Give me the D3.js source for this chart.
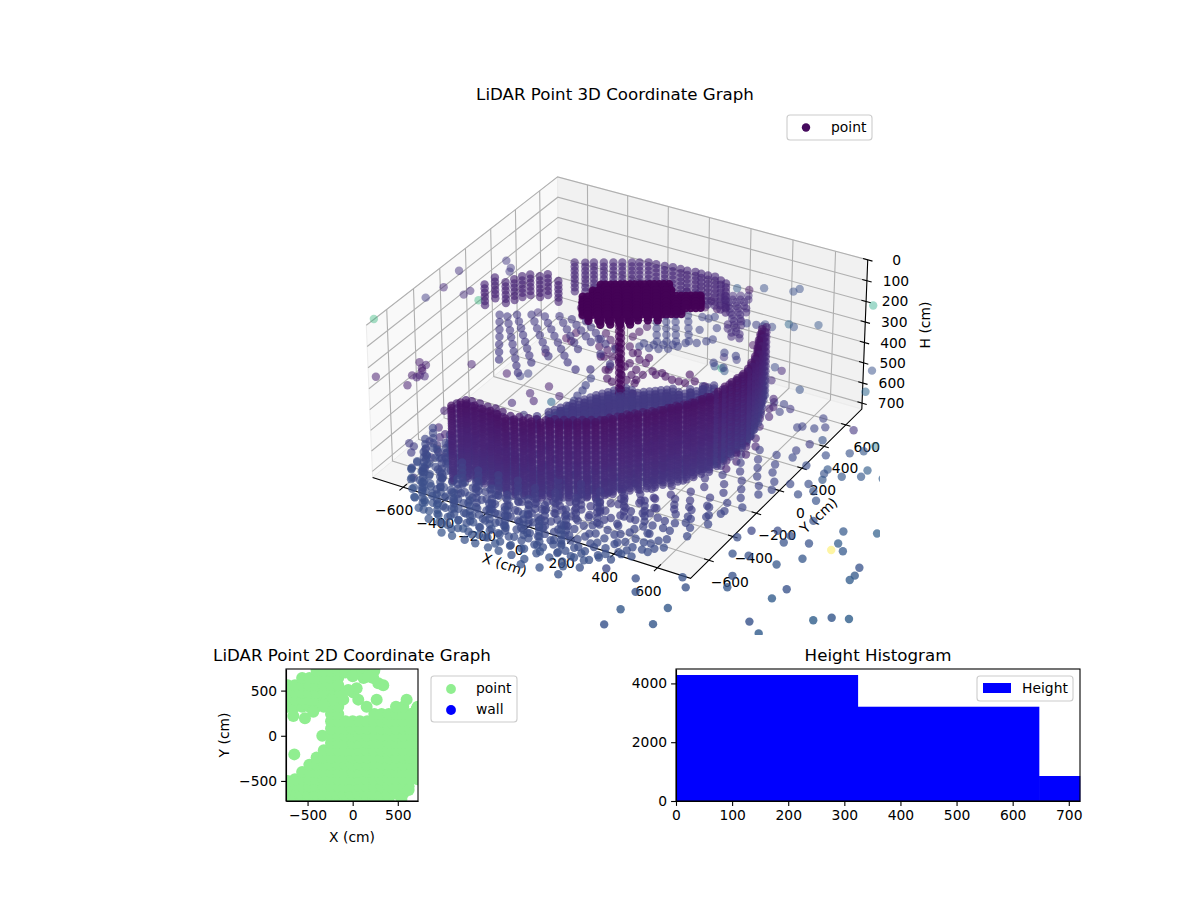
<![CDATA[<!DOCTYPE html>
<html><head><meta charset="utf-8">
<script src="https://cdn.jsdelivr.net/npm/d3@7/dist/d3.min.js"></script>
<style>html,body{margin:0;background:#fff;overflow:hidden}svg{display:block}text{font-family:"DejaVu Sans";fill:#000}</style>
</head><body><svg id="c" width="1200" height="900"></svg>
<script>
// ---------- 3D chart data (cm) ----------
const xTicks3d=[-600,-400,-200,0,200,400,600];
const yTicks3d=[-600,-400,-200,0,200,400,600];
const hTicks3d=[0,100,200,300,400,500,600,700];
const xyLimit=[-750,750];
const hLimit=[0,730];

const frontWallHeights=[330,342,354,366,378,390,402,414,426,438,450,462,474,486,498,510,522,534,546,558,570,582,594,606,618,630,642,654,666,678,690];
const frontWallColumns=[[-415,-655],[-396,-614],[-371,-609],[-334,-607],[-293,-613],[-257,-610],[-219,-618],[-174,-630],[-139,-619],[-103,-608],[-71,-598],[-34,-587],[-7,-561],[29,-549],[61,-531],[93,-512],[124,-493],[156,-475],[179,-442],[203,-419],[227,-385],[250,-361],[274,-337],[302,-311],[326,-288],[345,-256],[365,-225],[386,-203],[408,-170],[425,-141],[440,-102],[460,-72],[467,-18],[471,32],[479,77],[483,118],[488,160],[485,207],[473,258],[462,311],[439,376],[412,438],[394,486],[380,526]];
const innerWallHeights=[340,364,388,412,436,460,484,508,532,556,580,604,628,652,676];
const innerWallColumns=[[-415,-615],[-396,-574],[-371,-569],[-334,-567],[-293,-573],[-257,-570],[-219,-578],[-174,-590],[-139,-579],[-103,-568],[-71,-558],[-34,-547],[-7,-521],[29,-509],[61,-491],[93,-472],[124,-453],[156,-435],[179,-402],[203,-379],[227,-345],[250,-321],[274,-297],[302,-271],[326,-248],[345,-216],[365,-185],[386,-163],[408,-130],[425,-101],[440,-62],[460,-32],[467,22],[471,72],[479,117],[483,158],[488,200],[485,247],[473,298],[462,351],[439,416],[412,478],[394,526],[380,566]];

const backWallHeights=[100,120,140,160,180,200,220,240];
const backWallColumns=[[-385,277],[-346,299],[-315,318],[-279,339],[-244,359],[-212,378],[-177,399],[-149,415],[-117,434],[-81,436],[-42,440],[-8,449],[28,451],[60,451],[94,460],[123,458],[155,458],[185,465],[222,448],[253,436]];

const leftWallHeights=[100,120,140,160,180,200];
const leftWallColumns=[[-613,-73],[-607,-1],[-547,-14],[-529,26],[-514,65],[-493,95],[-450,102],[-430,133],[-362,105]];

const fanHeights=[485,500,515,530,545];
const fanPoints=[[-205,-335],[-181,-282],[-156,-228],[-130,-174],[-105,-121],[-80,-67],[-50,-20],[-21,27],
[-131,-272],[-101,-225],[-75,-172],[-50,-118],[-21,-71],[9,-24],[43,16],[77,55],[115,87],[152,119],
[-46,-223],[-21,-169],[9,-122],[38,-75],[73,-35],[106,4],[144,35],[182,68],[216,107],[250,147],[279,194],[305,248],
[-143,-250],[-116,-200],[-90,-146],[-62,-94],[-35,-45],[-6,2],[28,42],
[-88,-248],[-60,-196],[-36,-145],[-6,-98],[24,-50],[58,-10],[93,26],[130,58],[166,88],[203,128],[234,170],[268,220],
[-168,-255],[-143,-201],[-117,-147],[-92,-94],[-65,-43],[-35,3],[-3,47],
[-116,-248],[-88,-198],[-62,-145],[-35,-94],[-6,-47],[26,-4],[60,35],[96,71],[133,103],[169,139],
[-33,-196],[-6,-145],[23,-98],[55,-55],[89,-15],[125,19],[163,51],[199,87],[233,127],[264,170],[292,221]];

const clusterHeights=[135,150,165];
const clusterPoints=[[-225,220],[-190,241],[-155,262],[-120,283],[-85,304],[-50,325],[-15,346],[20,367],
[-228,159],[-193,180],[-158,201],[-123,222],[-88,243],[-53,264],[-18,285],[17,306],[52,327],
[-238,94],[-203,115],[-168,136],[-133,157],[-98,178],[-63,199],[-28,220],[7,241],[42,262],[77,283],[112,304],[147,325],[182,346],
[-213,50],[-178,71],[-143,92],[-108,113],[-73,134],[-38,155],[-3,176],[32,197],[67,218],[102,239],[137,260],[172,281],[207,302],
[-187,7],[-152,28],[-117,49],[-82,70],[-47,91],[-12,112],[23,133],[58,154],[93,175],[128,196],[163,217],
[-141,-24],[-106,-3],[-71,18],[-36,39],[-1,60],[34,81],[69,102],[104,123],
[-82,-28],[-47,-7],[-12,14],[23,35],
[-208,230],[-173,251],[-138,272],[-103,293],[-68,314],[-33,335],[2,356],
[-210,170],[-175,190],[-140,211],[-105,232],[-70,253],[-35,274],[0,295],[35,316],
[-220,104],[-185,125],[-150,146],[-115,167],[-80,188],[-45,209],[-10,230],[25,251],[60,272],[95,293],[130,314],[165,335],
[-195,60],[-160,81],[-125,102],[-90,123],[-55,144],[-20,165],[15,186],[50,207],[85,228],[120,249],[155,270],[190,291],
[-170,17],[-135,38],[-100,59],[-65,80],[-30,101],[5,122],[40,143],[75,164],[110,185],[145,206]];

const stemHeights=[170,195,220,245,270,295,320,345,370,395,420,445,470,495];
const stemColumns=[[0,0],[-14,8]];

const rayHeight=350;
const rayPoints=[[-658,111],[-625,57],[-592,3],[-560,-49],[-527,-105],[-494,-159],[-461,-213],
[-621,114],[-586,66],[-550,19],[-515,-29],[-479,-76],[-444,-124],[-408,-171],[-373,-219],[-337,-266],
[-594,148],[-557,103],[-519,58],[-482,13],[-445,-31],[-408,-76],[-370,-121],[-333,-166],
[-541,179],[-500,135],[-460,90],[-420,46],[-379,2],[-339,-43],[-298,-87],
[-484,194],[-444,153],[-404,113],[-364,72],[-323,32],[-283,-9],[-243,-49],[-203,-90],
[-431,226],[-389,186],[-347,146],[-306,106],[-264,66],[-222,26],
[-373,230],[-331,198],[-290,167],[-248,135],[-206,104],
[-312,246],[-269,213],[-226,180],[-183,147],
[-120,37],[-43,-16],[-92,-93],[-145,-124],[-144,120],[-88,105],[-190,142]];

const midHeight=500;
const darkArcPoints=[[-286,311],[-226,248],[-153,161],[-92,83],[-104,254],[-53,220],[-8,197],[13,243],[55,250],[118,223],[179,226],[207,259],[264,243],[-135,334],[-83,300],[-46,289],[-242,304],[-197,265],[-159,255],[-108,220],[-49,173],[-3,119],[-85,152],[33,42],[-65,897],[-9,848],[-61,834],[15,879],[-198,917],[-549,645],[-524,561],[-483,504],
[-318,422],[-273,384],[-227,345],[-238,241],[-164,155],[-161,189],[-205,456],[-202,507],[-194,560],[-174,376],[-117,345],[-55,333],[39,225],[81,233],[149,225],[162,297],[-123,97],[-46,126],[-11,147]];
const blueStripPoints=[[-182,63],[-172,3],[-162,-40],[-159,-87],[-150,-130],[-146,-177],[-143,-224],[-152,-262],[-156,-297],
[-208,666],[-180,618],[-152,569],[-124,520],[-96,472],[-172,687],[-144,639],[-116,590],[-88,541],[-60,493],[-137,707],[-109,659],[-81,610],[-53,561],[-25,513],[-90,735],[-62,687],[-34,638],[-6,589],[22,541],
[-139,397],[-97,406],[-58,419],[-23,440],[2,480],[17,521],[-136,431],[-93,440],[-58,461],[-23,481],
[16,782],[71,700],[0,756],[-30,754],[14,650],[58,545],[86,579],[103,605],[200,531],[255,531],[201,434],[257,418],[162,802],[204,810],[234,812]];
const rightConeHeights=[490,510];
const rightConePoints=[[-27,952],[3,969],[32,986],[61,1004],[13,910],[43,927],[72,944],[47,865],[76,882],[106,900],[81,820],[110,837],[115,774],[141,789],[149,729],[105,736],[152,682],[188,687]];

const rightMessHeights=[730,690];
const rightMessPoints=[[281,220],[285,296],[294,366],[311,423],[315,500],[323,569],[340,625],[346,165],[363,221],[371,291],[375,368],[380,445],[389,515],[415,113],[420,189],[436,245],[444,315],[441,406],[438,497],[323,104],[399,57],[490,110],[498,179],[502,256],[266,118],[345,25],[210,132],[221,45],[328,-31],[158,55],[141,-2],[256,-74],[125,-57],[238,-130],[481,39],[416,577]];

const floorHeight=730;
const floorRowsY=[-960,-900,-850,-790,-730,-670,-610,-550,-490,-430,-370,-310,-250,-190,-130,-70,-10,50,110,170,240];
const floorRowsX=[
[-280,-230,-170,-120,-60,-10,50,110],
[-380,-330,-290,-240,-190,-140,-100,-40,10,60,130,190,250],
[-460,-410,-370,-320,-270,-230,-170,-120,-80,-30,30,90,130,200,260,320],
[-520,-470,-430,-380,-340,-280,-240,-190,-130,-90,-30,20,70,130,180,240,290,350,410],
[-560,-520,-470,-410,-370,-320,-260,-210,-170,-120,-60,-10,40,110,160,220,280,350,410,470],
[-610,-570,-520,-470,-420,-370,-330,-270,-220,-160,-110,-50,0,60,120,170,240,310,370,440,510],
[-650,-600,-560,-500,-450,-400,-350,-290,-240,-190,-130,-80,-20,40,90,150,220,290,350,420,490,550],
[-660,-610,-570,-510,-470,-420,-360,-300,-250,-190,-140,-80,-30,30,100,170,240,300,380,450,530],
[-650,-610,-550,-500,-450,-390,-340,-280,-230,-170,-110,-50,10,70,140,210,280,350,430,510,590],
[-640,-590,-530,-470,-420,-370,-310,-250,-190,-120,-60,0,60,130,200,270,350,420,500,570],
[-620,-560,-500,-440,-380,-320,-260,-190,-130,-60,10,80,150,230,300,380,470,540,620],
[-590,-520,-450,-400,-330,-260,-190,-120,-40,30,100,190,270,340,430,510,590],
[-560,-480,-400,-320,-250,-170,-70,20,120,210,290,380,470,550,630],
[-520,-440,-350,-250,-130,40,170,260,350,440,530,610,680],
[-510,-400,170,280,370,470,560,640],
[-490,240,340,440,530,610,690],
[-470,300,400,490,580,660,720],
[360,450,540,620,700],
[420,510,590,660],
[480,560,640],
[530,610]];

const floorScatterHeight=712;
const floorScatterPoints=[[-300,-925],[-245,-940],[-205,-915],[-150,-935],[-95,-925],[-35,-945],[25,-930],[85,-920],[150,-905],[215,-880],[290,-875],[350,-860],
[-420,-875],[-345,-880],[-300,-860],[-255,-870],[-195,-855],[-150,-875],[-105,-860],[-55,-880],[5,-865],[60,-845],[115,-870],[170,-835],[235,-850],[300,-835],[375,-825],
[-500,-815],[-445,-825],[-395,-805],[-350,-820],[-300,-800],[-255,-815],[-205,-795],[-160,-820],[-105,-800],[-60,-825],[-5,-795],[45,-810],[100,-785],[155,-805],[215,-775],[265,-800],[320,-770],[385,-790],[440,-760],
[-545,-765],[-490,-750],[-445,-770],[-395,-745],[-345,-760],[-290,-740],[-235,-760],[-185,-735],[-140,-755],[-85,-745],[-35,-760],[15,-735],[70,-750],[130,-730],[190,-745],[250,-720],[315,-735],[380,-710],[445,-725],[495,-690],
[-590,-705],[-535,-690],[-490,-710],[-440,-690],[-390,-705],[-345,-680],[-295,-700],[-240,-680],[-190,-695],[-135,-675],[-80,-695],[-25,-680],[30,-700],[90,-670],[150,-690],[205,-655],[275,-680],[345,-650],[410,-675],[475,-640],[535,-660],
[-630,-640],[-585,-625],[-540,-645],[-485,-625],[-430,-640],[-385,-615],[-320,-635],[-265,-610],[-215,-630],[-160,-605],[-105,-625],[-50,-600],[10,-625],[70,-595],[125,-620],[190,-590],[255,-615],[325,-585],[390,-605],[455,-575],[520,-600],
[-640,-580],[-590,-565],[-535,-585],[-485,-565],[-440,-580],[-385,-555],[-330,-575],[-275,-545],[-215,-570],[-165,-540],[-110,-565],[-55,-535],[5,-560],[65,-530],[135,-555],[205,-525],[270,-550],[340,-515],[415,-540],[490,-510],
[-630,-520],[-580,-505],[-525,-525],[-475,-505],[-420,-520],[-365,-495],[-310,-510],[-255,-480],[-200,-500],[-140,-470],[-80,-495],[-20,-465],[40,-485],[105,-455],[175,-475],[245,-445],[315,-465],[390,-440],[470,-460],[550,-430],
[-615,-460],[-560,-445],[-505,-465],[-445,-440],[-395,-455],[-340,-425],[-280,-445],[-220,-410],[-155,-440],[-90,-405],[-30,-425],[30,-395],[95,-410],[165,-380],[235,-405],[310,-375],[385,-395],[460,-365],[535,-385],[600,-350],
[-590,-400],[-530,-385],[-470,-405],[-410,-380],[-350,-395],[-290,-360],[-225,-385],[-160,-350],[-95,-370],[-25,-340],[45,-355],[115,-320],[190,-340],[265,-305],[345,-330],[425,-295],[505,-320],[575,-280],[640,-300]];

const streakHeights=[600,625,650,675,700];
const streakColumns=[[-500,-750],[-420,-745],[-330,-755],[-250,-740],[-170,-750],[-90,-760],[0,-745],[80,-750],[170,-735],
[-560,-650],[-470,-655],[-380,-640],[-290,-660],[-200,-650],[-110,-645],[-20,-660],[70,-650],[160,-640],[250,-625],
[-440,-850],[-360,-865],[-285,-855],[-200,-870],[-120,-850],[-40,-860],[40,-850],[120,-860],[210,-840],
[-610,-560],[-520,-545],[-430,-560],[-340,-550],[-250,-565],[-155,-555],[-65,-545],[30,-560],[125,-540],[220,-550],[320,-530],[410,-520],
[-630,-470],[-540,-480],[-450,-465],[-350,-480],[-250,-470]];

// [X, Y, colour value]; readings projected onto the floor height
const strayPoints=[[620,-1077,.34],[775,-977,.34],[780,-1103,.33],[563,-859,.28],[610,-942,.3],[719,-759,.3],[765,-816,.3],[885,-652,.3],[906,-733,.33],[809,-511,.3],[872,-493,.3],[998,-493,.33],[1115,-629,.3],[1095,-715,.36],[1095,-901,.3],[1164,-954,.36],[1305,-769,.38],[1359,-718,.33],[1421,-692,.38],[1068,-405,.33],[1446,-872,.34],[1575,-769,.4],[1300,-447,.36],[1303,-409,.34],[1293,-349,.3],[1140,-234,.36],[1182,-275,.34],[1138,-291,1],[1039,-293,.3],[948,-337,.3],[949,-280,.3],[886,-272,.27],[795,-325,.22],[768,-396,.27],[1118,-145,.34],[1242,-90,.38],[977,-135,.3],[916,6,.3],[830,12,.27],[873,65,.3],[830,105,.27],[765,67,.24],[865,162,.33],[849,208,.3],[847,244,.33],[923,223,.33],[992,263,.33],[993,320,.36],[1076,294,.36],[789,340,.27],[868,404,.3],[911,448,.33],[934,508,.47],[690,385,.18],[664,313,.2],[677,256,.24],[756,228,.27],[798,578,.16],[684,539,.2],[648,508,.22],[582,479,.2],[597,497,.2],[722,440,.3],[644,599,.2],[486,599,.17],[444,621,.2],[458,555,.2],[400,614,.18],[1438,-339,.36],[1466,-388,.38],[1074,-1135,.33],[1130,-1095,.38],[1162,-1075,.38],[1274,-1019,.36],[1447,-863,.34],[1492,-883,.36],[1013,-1171,.32],[617,-1199,.3],[117,-999,.3],[194,-982,.3],[270,-928,.3],[283,-986,.3],[332,-902,.28],[427,-856,.22],
[-1250,1118,.17],[-1196,1069,.17],[-1183,1037,.17],[-1386,929,.15],[-1364,764,.12],[-1382,642,.18],[-1249,751,.13],[-1242,795,.13],[-1164,740,.66],[-1476,363,.66],[-1190,-56,.08],[-1033,-48,.08],[-889,242,.09],[-1094,143,.07],[-1059,107,.07],[-1045,88,.07],[-1032,49,.07],[-1061,32,.07],[-1057,137,.09],[-1010,53,.12],[-1035,29,.1],[-715,251,.08],[-653,260,.2],[-635,297,.2],[-541,158,.1],[-500,247,.08],[-420,200,.1],[-494,110,.1],[-425,141,.42],[-566,50,.12],[-876,778,.15],[-649,643,.03],[-618,633,.02],[-636,705,.03],[-661,487,.03],
[-214,1417,.35],[-109,1478,.28],[20,1516,.28],[33,1552,.28],[388,1581,.6],[141,1242,.42],[171,1232,.3],[258,1301,.32],[642,1062,.3],[698,888,.42],[446,762,.3],[264,878,.25],[304,865,.12],[304,771,.12],[90,851,.18],[31,844,.15],[34,754,.3],[68,754,.62],[90,740,.32],[-342,1276,.05],[-159,1430,.05],[50,1189,.25],[88,1183,.25],[91,1000,.05],
[-766,-447,.18],[-736,-458,.18],[-719,-504,.19],[-684,-446,.17],[-701,-391,.17],[-656,-402,.16],[-621,-447,.16],[-576,-466,.16],[-652,-604,.2],[-602,-667,.2],[-601,-583,.19],[-626,-496,.17],[-781,-149,.1],[-728,-277,.11],[-681,-342,.12],[-675,-310,.11]];

// ---------- 2D chart data ----------
const scatterXLimit=[-739,724], scatterYLimit=[-722,739];
const scatterTicks=[-500,0,500];
const scatterRowsY=[-720,-640,-560,-480,-400,-320,-240,-160,-80,0,80,160,240,320,400,480,560,640,720];
const scatterRowsX=[
[-640,-560,-480,-400,-320,-240,-160,-80,0,80,160,240,320,400],
[-660,-580,-500,-420,-340,-260,-180,-100,-20,60,140,220,300,380,480,560],
[-640,-560,-480,-400,-320,-240,-160,-80,0,80,160,240,320,400,480,560,620],
[-640,-560,-480,-400,-320,-240,-160,-80,0,80,160,240,320,400,480,560,640,720],
[-560,-480,-400,-320,-240,-160,-80,0,80,160,240,320,400,480,560,640,720],
[-480,-400,-320,-240,-160,-80,0,80,160,240,320,400,480,560,640,720],
[-400,-320,-240,-160,-80,0,80,160,240,320,400,480,560,640,720],
[-320,-240,-160,-80,0,80,160,240,320,400,480,560,640,720],
[-240,-160,-80,0,80,160,240,320,400,480,560,640,720],
[-337,-240,-160,-80,0,80,160,240,320,400,480,560,640,720],
[-240,-160,-80,0,80,160,240,320,400,480,560,640,720],
[-240,-160,-80,0,80,160,240,320,400,480,560,640,720],
[-240,-160,240,320,400,480,560,640,720],
[-720,-640,-560,-480,-400,-320,-240,-160,155,480,560,720],
[-720,-640,-560,-480,-400,-320,-240,-104,62,266,598],
[-720,-640,-560,-480,-400,-320,-240,-160,7],
[-720,-640,-560,-480,-400,-320,-240,339],
[-560,-480,-400,-320,-240,-160,120,228],
[-400,-320,-240,-160,-80,0,80,160,240]];
const scatterExtraPoints=[[-647,-206],[-658,218],[-529,193],[-437,267],[-215,425],[709,300],[44,525],[-49,507],[-141,451],[-233,396],[-326,340],[173,655],[284,581],[-700,-650],[-700,-720],[-720,-560],[-720,-500],[620,-600],[540,-700],[-80,700],[0,660],[-160,560]];

// ---------- Histogram data ----------
const binEdges=[0,324,647,720];
const binCounts=[4286,3207,850];
const histXTicks=[0,100,200,300,400,500,600,700];
const histYTicks=[0,2000,4000];

const svg=d3.select('#c');
const fs=13.89, titleFs=16.67;
svg.append('rect').attr('width',1200).attr('height',900).attr('fill','#fff');

// ---------- 3D projection (elev 30, azim -60, perspective) ----------
const xWorld=d3.scaleLinear().domain(xyLimit).range([-.5,.5]);
const yWorld=d3.scaleLinear().domain(xyLimit).range([-.5,.5]);
const hWorld=d3.scaleLinear().domain(hLimit).range([0,-.5]);
const screenX=d3.scaleLinear().domain([0,1]).range([621,988]);
const screenY=d3.scaleLinear().domain([0,1]).range([292,-65]);
function view(X,Y,H){
  const a=xWorld(X),b=yWorld(Y),c=hWorld(H);
  const n=.433*a-.75*b+.5*c, k=10/(10-n);
  return {u:(.866*a+.5*b)*k, v:(-.25*a+.433*b+.866*c)*k, n};
}
function proj(X,Y,H){const p=view(X,Y,H);return [screenX(p.u),screenY(p.v)];}
const path3d=d3.line();
const [xa,xb]=xyLimit,[h0,h1]=hLimit;

const g3=svg.append('g');
const panes=[
 [[[xa,xa,h1],[xa,xb,h1],[xa,xb,h0],[xa,xa,h0]],'#f9f9f9'],
 [[[xa,xb,h1],[xb,xb,h1],[xb,xb,h0],[xa,xb,h0]],'#f1f1f1'],
 [[[xa,xa,h1],[xb,xa,h1],[xb,xb,h1],[xa,xb,h1]],'#f5f5f5']];
panes.forEach(([c,col])=>g3.append('path').attr('d',path3d(c.map(p=>proj(...p)))+'Z').attr('fill',col).attr('stroke','#ececec').attr('stroke-width',1));
const grid=g3.append('g').attr('fill','none').attr('stroke','#b0b0b0').attr('stroke-width',1.1);
xTicks3d.forEach(x=>grid.append('path').attr('d',path3d([[x,xa,h1],[x,xb,h1],[x,xb,h0]].map(p=>proj(...p)))));
yTicks3d.forEach(y=>grid.append('path').attr('d',path3d([[xb,y,h1],[xa,y,h1],[xa,y,h0]].map(p=>proj(...p)))));
hTicks3d.forEach(h=>grid.append('path').attr('d',path3d([[xb,xb,h],[xa,xb,h],[xa,xa,h]].map(p=>proj(...p)))));
const ax=g3.append('g').attr('fill','none').attr('stroke','#000').attr('stroke-width',1.1);
ax.append('path').attr('d',path3d([[xa,xa,h1],[xb,xa,h1],[xb,xb,h1],[xb,xb,h0]].map(p=>proj(...p))));
const lab=g3.append('g').attr('font-size',fs).attr('text-anchor','middle');
xTicks3d.forEach(x=>{
  ax.append('path').attr('d',path3d([[x,xa+28,h1],[x,xa-28,h1]].map(p=>proj(...p))));
  const p=proj(x,xa,h1);
  lab.append('text').attr('x',p[0]-9).attr('y',p[1]+28).text(d3.format('d')(x));
});
yTicks3d.forEach(y=>{
  ax.append('path').attr('d',path3d([[xb-22,y,h1],[xb+22,y,h1]].map(p=>proj(...p))));
  const p=proj(xb,y,h1);
  lab.append('text').attr('x',p[0]+21).attr('y',p[1]+27).text(d3.format('d')(y));
});
hTicks3d.forEach(h=>{
  ax.append('path').attr('d',path3d([[xb-22,xb,h],[xb+22,xb,h]].map(p=>proj(...p))));
  const p=proj(xb,xb,h);
  lab.append('text').attr('x',p[0]+29).attr('y',p[1]+5).text(h);
});
g3.append('text').attr('font-size',fs).attr('text-anchor','middle').attr('transform','translate(503,569) rotate(18)').text('X (cm)');
g3.append('text').attr('font-size',fs).attr('text-anchor','middle').attr('transform','translate(822,519) rotate(-43)').text('Y (cm)');
g3.append('text').attr('font-size',fs).attr('text-anchor','middle').attr('transform','translate(930,325) rotate(-90)').text('H (cm)');
svg.append('text').attr('x',615).attr('y',100).attr('font-size',titleFs).attr('text-anchor','middle').text('LiDAR Point 3D Coordinate Graph');

// assemble the points
const rangeColour=d3.scaleLinear().domain([0,500,800,1200,1700,2000]).range([0,.06,.16,.26,.3,.33]);
const wallColour=d3.scaleLinear().domain([330,690]).range([.05,.16]);
const strayColour=d3.scaleLinear().domain([0,.2,.42,.6,1]).range([0,.2,.33,.6,1]);
const pts=[];
frontWallColumns.forEach(([X,Y])=>frontWallHeights.forEach(H=>pts.push({X,Y,H,c:wallColour(H)})));
innerWallColumns.forEach(([X,Y])=>innerWallHeights.forEach(H=>pts.push({X,Y,H,c:wallColour(H)+.03})));
backWallColumns.forEach(([X,Y])=>backWallHeights.forEach(H=>pts.push({X,Y,H,c:.11})));
leftWallColumns.forEach(([X,Y])=>leftWallHeights.forEach(H=>pts.push({X,Y,H,c:.1})));
fanPoints.forEach(([X,Y])=>fanHeights.forEach(H=>pts.push({X,Y,H,c:.17})));
rayPoints.forEach(([X,Y])=>pts.push({X,Y,H:rayHeight,c:.17}));
darkArcPoints.forEach(([X,Y])=>pts.push({X,Y,H:midHeight,c:.05}));
blueStripPoints.forEach(([X,Y])=>pts.push({X,Y,H:midHeight,c:.2}));
rightConePoints.forEach(([X,Y])=>rightConeHeights.forEach(H=>pts.push({X,Y,H,c:.13})));
rightMessPoints.forEach(([X,Y])=>rightMessHeights.forEach(H=>pts.push({X,Y,H,c:.1})));
floorRowsY.forEach((Y,i)=>floorRowsX[i].forEach(X=>pts.push({X,Y,H:floorHeight,c:rangeColour(Math.hypot(X,Y,floorHeight))})));
floorScatterPoints.forEach(([X,Y])=>pts.push({X,Y,H:floorScatterHeight,c:rangeColour(Math.hypot(X,Y,floorScatterHeight))}));
streakColumns.forEach(([X,Y])=>streakHeights.forEach(H=>pts.push({X,Y,H,c:rangeColour(Math.hypot(X,Y,H))})));
strayPoints.forEach(([X,Y,c])=>pts.push({X,Y,H:floorHeight,c:strayColour(c),pale:c>.45}));
stemColumns.forEach(([X,Y])=>stemHeights.forEach(H=>pts.push({X,Y,H,c:rangeColour(H)*.5})));
clusterPoints.forEach(([X,Y])=>clusterHeights.forEach(H=>pts.push({X,Y,H,c:.005,solid:true})));
const depthAlpha=d3.scaleLinear().domain([-.7,.5]).range([.5,.82]).clamp(true);
pts.forEach(d=>{const v=view(d.X,d.Y,d.H);d.n=v.n;d.px=screenX(v.u);d.py=screenY(v.v);});
const ordered=d3.sort(pts,d=>d.solid?9:d.n);
svg.append('clipPath').attr('id','clip3d').append('rect').attr('x',366).attr('y',110).attr('width',514).attr('height',525);
svg.append('g').attr('clip-path','url(#clip3d)').selectAll('circle').data(ordered).join('circle')
  .attr('cx',d=>d.px).attr('cy',d=>d.py).attr('r',4.2)
  .attr('fill',d=>d3.interpolateViridis(d.c))
  .attr('fill-opacity',d=>d.pale?.42:d.solid?.95:depthAlpha(d.n));

function legendBox(x,y,w,h){svg.append('rect').attr('x',x).attr('y',y).attr('width',w).attr('height',h).attr('rx',3).attr('fill','#fff').attr('fill-opacity',.8).attr('stroke','#ccc').attr('stroke-width',1.1);}
legendBox(787,115,85,25);
svg.append('circle').attr('cx',806).attr('cy',127.5).attr('r',4.2).attr('fill',d3.interpolateViridis(.03));
svg.append('text').attr('x',831).attr('y',132).attr('font-size',fs).text('point');

function styleAxis(g){g.selectAll('text').attr('font-size',fs).attr('font-family','DejaVu Sans').attr('fill','#000');g.selectAll('line').attr('stroke','#000').attr('stroke-width',1.1);g.selectAll('path').attr('stroke','#000').attr('stroke-width',1.1);}

// ---------- 2D scatter ----------
const sx=d3.scaleLinear().domain(scatterXLimit).range([286,418]);
const sy=d3.scaleLinear().domain(scatterYLimit).range([801,669]);
svg.append('clipPath').attr('id','clip2d').append('rect').attr('x',286).attr('y',669).attr('width',132).attr('height',132);
const scatterPts=[];
scatterRowsY.forEach((Y,i)=>scatterRowsX[i].forEach(X=>scatterPts.push([X,Y])));
scatterExtraPoints.forEach(p=>scatterPts.push(p));
svg.append('g').attr('clip-path','url(#clip2d)').selectAll('circle').data(scatterPts).join('circle')
  .attr('cx',d=>sx(d[0])).attr('cy',d=>sy(d[1])).attr('r',6).attr('fill','#90ee90');
svg.append('g').attr('transform','translate(0,801)').call(d3.axisBottom(sx).tickValues(scatterTicks).tickSize(4.9).tickPadding(4).tickSizeOuter(0)).call(styleAxis);
svg.append('g').attr('transform','translate(286,0)').call(d3.axisLeft(sy).tickValues(scatterTicks).tickSize(4.9).tickPadding(4).tickSizeOuter(0)).call(styleAxis);
svg.append('rect').attr('x',286).attr('y',669).attr('width',132).attr('height',132).attr('fill','none').attr('stroke','#000').attr('stroke-width',1.1);
svg.append('text').attr('x',352).attr('y',661).attr('font-size',titleFs).attr('text-anchor','middle').text('LiDAR Point 2D Coordinate Graph');
svg.append('text').attr('x',352).attr('y',842).attr('font-size',fs).attr('text-anchor','middle').text('X (cm)');
svg.append('text').attr('font-size',fs).attr('text-anchor','middle').attr('transform','translate(229,735) rotate(-90)').text('Y (cm)');
legendBox(431,676,86,46);
svg.append('circle').attr('cx',451).attr('cy',689).attr('r',4.9).attr('fill','#90ee90');
svg.append('circle').attr('cx',451).attr('cy',710).attr('r',4.9).attr('fill','#0000ff');
svg.append('text').attr('x',476).attr('y',693).attr('font-size',fs).text('point');
svg.append('text').attr('x',476).attr('y',714).attr('font-size',fs).text('wall');

// ---------- Histogram ----------
const hx=d3.scaleLinear().domain([0,720]).range([676,1080]);
const hy=d3.scaleLinear().domain([0,4490]).range([801,669]);
svg.append('g').selectAll('rect').data(binCounts).join('rect')
  .attr('x',(d,i)=>hx(binEdges[i])).attr('width',(d,i)=>hx(binEdges[i+1])-hx(binEdges[i])+.3)
  .attr('y',d=>hy(d)).attr('height',d=>801-hy(d)).attr('fill','#0000ff');
svg.append('g').attr('transform','translate(0,801)').call(d3.axisBottom(hx).tickValues(histXTicks).tickSize(4.9).tickPadding(4).tickSizeOuter(0)).call(styleAxis);
svg.append('g').attr('transform','translate(676,0)').call(d3.axisLeft(hy).tickValues(histYTicks).tickFormat(d3.format('d')).tickSize(4.9).tickPadding(4).tickSizeOuter(0)).call(styleAxis);
svg.append('rect').attr('x',676).attr('y',669).attr('width',404).attr('height',132).attr('fill','none').attr('stroke','#000').attr('stroke-width',1.1);
svg.append('text').attr('x',878).attr('y',661).attr('font-size',titleFs).attr('text-anchor','middle').text('Height Histogram');
legendBox(977,676,96,25);
svg.append('rect').attr('x',983).attr('y',683).attr('width',28).attr('height',10).attr('fill','#0000ff');
svg.append('text').attr('x',1022).attr('y',693).attr('font-size',fs).text('Height');
</script></body></html>]]>
